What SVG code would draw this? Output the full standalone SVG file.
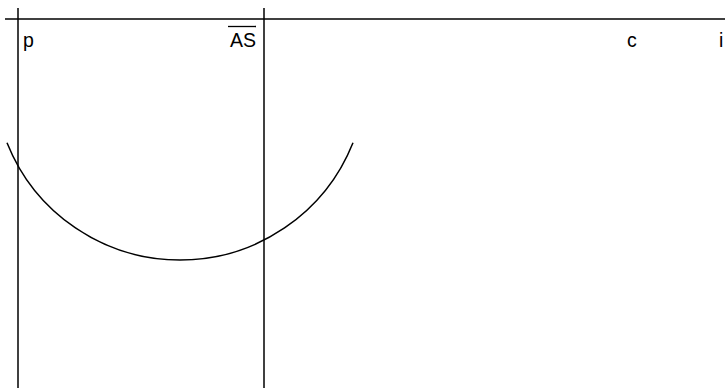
<svg xmlns="http://www.w3.org/2000/svg" width="725" height="388" viewBox="0 0 725 388">
<style>
.ln{stroke:#000;stroke-width:1.5;fill:none}
.lbl{font-family:"Liberation Sans",Arial,sans-serif;font-size:19.5px;fill:#000}
</style>
<rect width="725" height="388" fill="#fff"/>
<g id="lines">
<line class="ln" x1="5" y1="19" x2="725" y2="19"/>
<line class="ln" x1="18" y1="8" x2="18" y2="388"/>
<line class="ln" x1="264" y1="8" x2="264" y2="388"/>
<path class="ln" d="M7,142.7 A186.2,186.2 0 0 0 353,142.7"/>
</g>
<g id="labels">
<text class="lbl" x="23" y="47">p</text>
<g id="as">
<text class="lbl" x="256" y="47" text-anchor="end">AS</text>
<line x1="228" y1="26.5" x2="256" y2="26.5" stroke="#000" stroke-width="1.3"/>
</g>
<text class="lbl" x="627" y="47">c</text>
<text class="lbl" x="719" y="47">i</text>
</g>
</svg>
